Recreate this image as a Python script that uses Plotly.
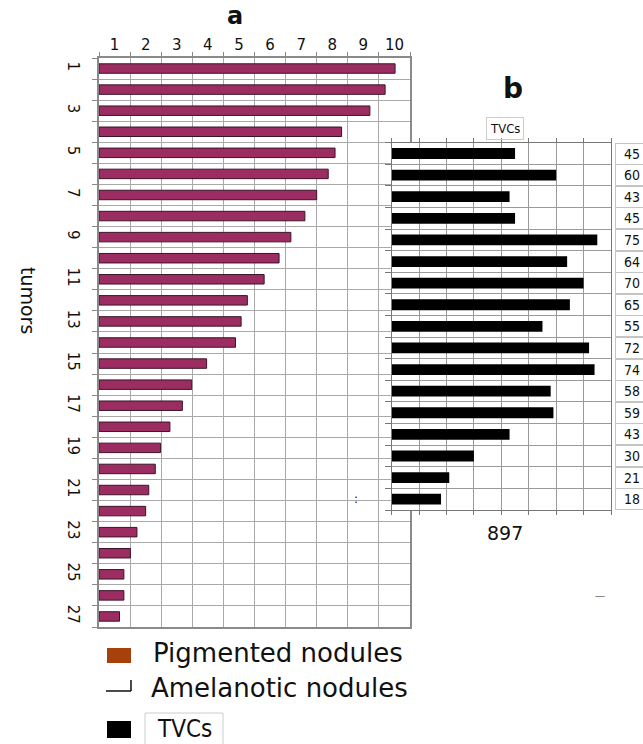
import plotly.graph_objects as go

W, H = 643, 744

# ---------------- data ----------------
# panel a: tumours 1..27, length of pigmented nodule bars (in grid units)
tumor_ids = list(range(1, 28))
pigmented = [9.52, 9.20, 8.71, 7.80, 7.59, 7.37, 7.00, 6.62, 6.17, 5.79,
             5.31, 4.77, 4.57, 4.39, 3.46, 2.98, 2.68, 2.28, 1.98, 1.81,
             1.60, 1.50, 1.22, 1.01, 0.80, 0.80, 0.66]
a_tick_labels = [str(k) for k in range(1, 11)]
a_y_labels = [str(k) for k in range(1, 28, 2)]

# panel b: TVCs per row
tvc_rows = list(range(1, 18))
tvcs = [45, 60, 43, 45, 75, 64, 70, 65, 55, 72, 74, 58, 59, 43, 30, 21, 18]
tvc_total = sum(tvcs)

legend_items = ["Pigmented nodules", "Amelanotic nodules", "TVCs"]


def px(x):
    return x / W


def py(y):
    return 1 - y / H


fig = go.Figure()
fig.add_trace(go.Bar(
    x=pigmented, y=tumor_ids, orientation="h", width=0.45,
    marker=dict(color="#9b2d62", line=dict(color="#3d1426", width=1)),
    xaxis="x", yaxis="y", showlegend=False, hoverinfo="skip"))
fig.add_trace(go.Bar(
    x=tvcs, y=tvc_rows, orientation="h", width=0.5,
    marker=dict(color="#000000", line=dict(width=0)),
    xaxis="x2", yaxis="y2", showlegend=False, hoverinfo="skip"))

grid_a = "#a9a9a9"
line_a = "#8a8a8a"
fig.update_layout(
    width=W, height=H, margin=dict(l=0, r=0, t=0, b=0),
    paper_bgcolor="white", plot_bgcolor="white", barmode="overlay",
    xaxis=dict(domain=[px(99), px(410)], anchor="y", side="top",
               range=[0, 10], tickvals=[k - 0.5 for k in range(1, 11)],
               ticktext=a_tick_labels, ticks="", showgrid=False,
               zeroline=False, showline=True, mirror=True,
               linecolor=line_a, linewidth=1.5, ticklabelstandoff=0,
               tickfont=dict(family="DejaVu Sans", size=15, color="#111"),
               minor=dict(tickvals=list(range(11)), ticks="outside",
                          ticklen=4, tickcolor=line_a, showgrid=True,
                          gridcolor=grid_a, gridwidth=1)),
    yaxis=dict(domain=[py(627), py(58)], anchor="x",
               range=[27.5, 0.5], tickvals=list(range(1, 28, 2)),
               ticktext=a_y_labels, tickangle=90, ticks="",
               showgrid=False, zeroline=False, showline=True, mirror=True,
               linecolor=line_a, linewidth=1.5, ticklabelstandoff=11,
               tickfont=dict(family="DejaVu Sans", size=15, color="#111"),
               minor=dict(tickvals=[k + 0.5 for k in range(0, 28)],
                          ticks="outside", ticklen=5, tickcolor=line_a,
                          showgrid=True, gridcolor=grid_a, gridwidth=1)),
    xaxis2=dict(domain=[px(391.7), px(611)], anchor="y2", range=[0, 80],
                dtick=10, showticklabels=False, ticks="outside", ticklen=4,
                tickcolor="#777", showgrid=True, gridcolor="#9a9a9a",
                zeroline=False, showline=True, mirror="ticks",
                linecolor="#777", linewidth=1.2),
    yaxis2=dict(domain=[py(510), py(142.7)], anchor="x2",
                range=[17.5, 0.5], showticklabels=False, showgrid=False,
                zeroline=False, showline=True, mirror=True,
                linecolor="#777", linewidth=1.2,
                minor=dict(tickvals=[k + 0.5 for k in range(0, 18)],
                           ticks="outside", ticklen=6, tickcolor="#777",
                           showgrid=True, gridcolor="#9a9a9a", gridwidth=1)),
)


def note(text, x, y, size, family="DejaVu Sans", **kw):
    d = dict(text=text, x=px(x), y=py(y), xref="paper", yref="paper",
             xanchor="center", yanchor="middle", showarrow=False,
             font=dict(family=family, size=size, color="#111"))
    d.update(kw)
    return d


NARROW = "Liberation Sans Narrow, DejaVu Sans Condensed"
ann = []
ann.append(note("<b>a</b>", 235, 16, 24))
ann.append(note("<b>b</b>", 513, 88, 28))
ann.append(note("tumors", 28, 300, 19, textangle=90))
ann.append(note("TVCs", 505, 129, 13, family=NARROW, bordercolor="#cccccc",
                borderwidth=1, borderpad=3))
ann.append(note(str(tvc_total), 505, 533, 19))
for r, v in zip(tvc_rows, tvcs):
    ann.append(dict(text=str(v), x=px(632), y=r, xref="paper", yref="y2",
                    xanchor="center", yanchor="middle",
                    showarrow=False, width=32, height=20, borderpad=0,
                    bordercolor="#c4c4c4", borderwidth=1,
                    font=dict(family=NARROW, size=14, color="#111")))
# stray marks of the original scan
ann.append(note(":", 356, 499, 12))
ann.append(note("—", 600, 595, 10, font=dict(size=10, color="#888")))

# legend texts
ann.append(note(legend_items[0], 151, 653, 26, xanchor="left"))
ann.append(note(legend_items[1], 149, 688, 26, xanchor="left"))
ann.append(note(legend_items[2], 184, 729, 24, family=NARROW))
fig.update_layout(annotations=ann)


def rect(x0, x1, y0, y1, **kw):
    d = dict(type="rect", xref="paper", yref="paper", x0=px(x0), x1=px(x1),
             y0=py(y1), y1=py(y0))
    d.update(kw)
    return d


def seg(x0, x1, y0, y1, **kw):
    d = dict(type="line", xref="paper", yref="paper", x0=px(x0), x1=px(x1),
             y0=py(y0), y1=py(y1))
    d.update(kw)
    return d


shapes = [
    rect(107, 131, 648, 663, fillcolor="#a8400c", line=dict(width=0)),
    seg(106, 131, 691, 691, line=dict(color="#111", width=1.5)),
    seg(131, 131, 680, 691, line=dict(color="#111", width=1.5)),
    rect(107, 131, 721, 738, fillcolor="#000", line=dict(width=0)),
    rect(145, 223, 713, 752, fillcolor="rgba(0,0,0,0)",
         line=dict(color="#cccccc", width=1)),
]
fig.update_layout(shapes=shapes)

fig.write_html("out.html", config={"displayModeBar": False},
               post_script="document.body.style.margin='0';"
                           "document.body.style.overflow='hidden';")
